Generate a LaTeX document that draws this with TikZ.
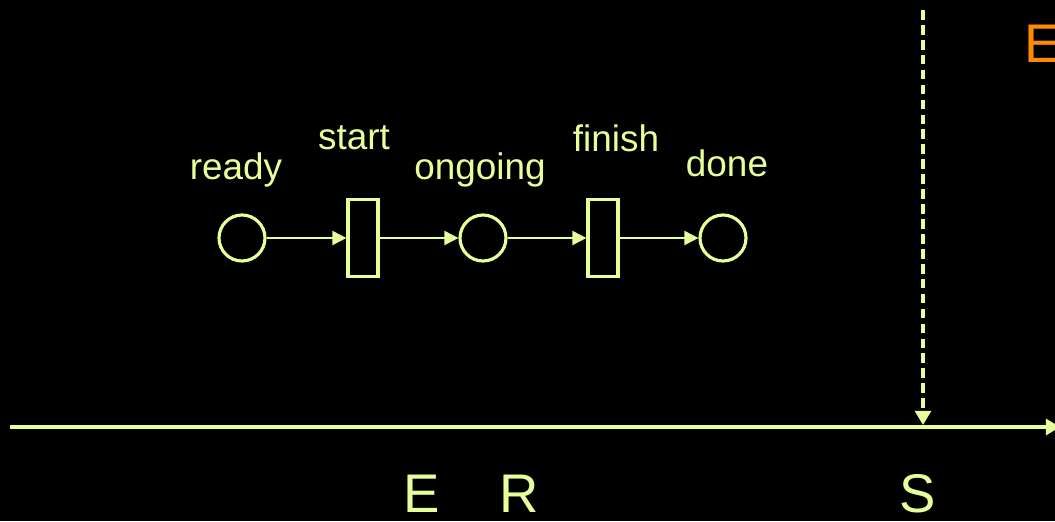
\documentclass[tikz,border=0pt]{standalone}
\usepackage{fontspec}
\setmainfont{Liberation Sans}
\usetikzlibrary{arrows.meta, positioning}

\definecolor{lime}{RGB}{230,255,153}
\definecolor{tangerine}{RGB}{255,140,0}

\begin{document}
\begin{tikzpicture}[x=0.02cm, y=-0.02cm, >={Triangle[length=8pt, width=8pt]}]
          \tikzstyle{place}=[circle, line width=1.8pt, draw=lime, minimum size=0.92cm, inner sep=0pt]
          \tikzstyle{trans}=[rectangle, line width=1.8pt, draw=lime, minimum width=0.6cm, minimum height=1.55cm, inner sep=0pt]
          \tikzstyle{lbl}=[text=lime, font=\fontsize{21}{24}\selectfont, inner sep=0pt]
          \tikzstyle{big}=[text=lime, font=\fontsize{31}{36}\selectfont, inner sep=0pt]

          \fill[black] (0,0) rectangle (1055,521);
          \useasboundingbox (0,0) rectangle (1055,521);

          \node[place] (ready) at (242,238) {};
          \node[trans] (start) at (363,238) {};
          \node[place] (ongoing) at (483,238) {};
          \node[trans] (finish) at (603,238) {};
          \node[place] (done) at (723,238) {};

          \node[lbl] (lready) at (236,170) {ready};
          \node[lbl] (lstart) at (354,138) {start};
          \node[lbl] (longoing) at (480,170) {ongoing};
          \node[lbl] (lfinish) at (616,138) {finish};
          \node[lbl] (ldone) at (727,163) {done};

          \path[color=lime, line width=1.1pt] (ready) edge[->] (start);
          \path[color=lime, line width=1.1pt] (start) edge[->] (ongoing);
          \path[color=lime, line width=1.1pt] (ongoing) edge[->] (finish);
          \path[color=lime, line width=1.1pt] (finish) edge[->] (done);

          % time line
          \coordinate (t0) at (10,427);
          \coordinate (t1) at (1060,427);
          \draw[lime, line width=2.8pt, ->, >={Triangle[length=8pt, width=9pt]}] (t0) -- (t1);

          \coordinate (s0) at (923,10);
          \coordinate (s1) at (923,425);
          \draw[lime, line width=1.8pt, dash pattern=on 5.5pt off 3pt, ->, >={Triangle[length=8pt, width=9pt]}] (s0) -- (s1);

          \node[big] (E) at (422,494) {E};
          \node[big] (R) at (519,494) {R};
          \node[big] (S) at (918,494) {S};
          \node[big, text=tangerine, anchor=west] (Etop) at (1024,44) {E};

        \end{tikzpicture}
\end{document}
